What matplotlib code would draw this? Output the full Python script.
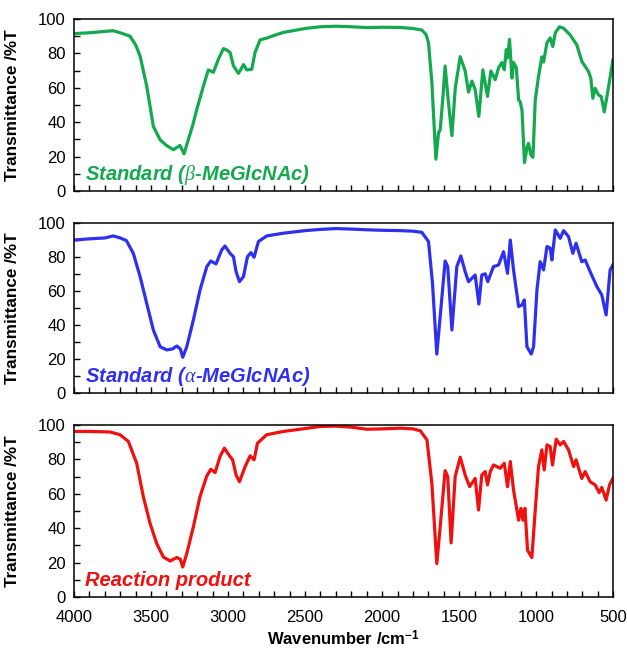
import matplotlib
matplotlib.use("Agg")
import matplotlib.pyplot as plt
from matplotlib.ticker import MultipleLocator

plt.rcParams['font.family'] = ['Liberation Sans', 'DejaVu Sans']
plt.rcParams['mathtext.fontset'] = 'custom'
plt.rcParams['mathtext.rm'] = 'Liberation Sans'
plt.rcParams['mathtext.it'] = 'Liberation Serif:italic'
plt.rcParams['mathtext.bf'] = 'Liberation Sans:bold'

# beta-MeGlcNAc standard (green)
wn_beta = [4000, 3900, 3800, 3746, 3700, 3636, 3600, 3571, 3528, 3485, 3441, 3400, 3355, 3312,
           3286, 3258, 3230, 3203, 3160, 3128, 3095, 3063, 3030, 3009, 2987, 2965, 2933, 2915,
           2900, 2879, 2846, 2825, 2792, 2749, 2700, 2641, 2500, 2402, 2300, 2200, 2100, 2000,
           1883, 1800, 1742, 1715, 1699, 1677, 1651, 1634, 1623, 1605, 1591, 1570, 1547, 1525,
           1493, 1461, 1439, 1417, 1396, 1372, 1346, 1316, 1294, 1266, 1244, 1222, 1207, 1194,
           1186, 1173, 1157, 1147, 1129, 1114, 1104, 1092, 1076, 1060, 1050, 1034, 1021, 1006,
           985, 963, 952, 930, 909, 892, 876, 849, 822, 779, 736, 703, 682, 660, 645, 632, 617,
           595, 578, 558, 530, 502]
t_beta = [91.5, 92, 92.8, 93.2, 92, 90, 85, 78.5, 61, 37.6, 29.8, 26.5, 24, 26.5,
          21.6, 29.8, 38, 47.4, 61, 70.4, 69, 76.6, 82.8, 82, 80.6, 72.8, 68.4, 71,
          73.5, 70.4, 70.8, 80.5, 87.9, 88.9, 90.5, 92.2, 94.5, 95.5, 95.8, 95.5, 95, 95.2,
          95.1, 94.5, 93.6, 91, 86.3, 63, 18.5, 33.7, 35.6, 55, 72.7, 52, 32.2, 60,
          78.1, 69.8, 57.5, 63.9, 58.9, 43.4, 70.5, 55, 69.8, 64.7, 71.7, 74.7, 70.5, 82.2,
          77.4, 88.2, 65.6, 74.7, 71.7, 53, 52, 47, 16.5, 25, 27.7, 21, 19.6, 53,
          66.5, 78, 75, 86.2, 89, 84, 92, 95.5, 94.6, 90.7, 84.9, 75.2, 72.5, 69.4, 65.5, 53.9, 59.7,
          55.8, 55, 46, 60.6, 76.2]

# alpha-MeGlcNAc standard (blue)
wn_alpha = [4000, 3900, 3800, 3746, 3700, 3660, 3615, 3571, 3528, 3485, 3441, 3398, 3360, 3333,
            3310, 3294, 3268, 3225, 3182, 3138, 3112, 3078, 3041, 3020, 2987, 2965, 2948, 2926,
            2900, 2874, 2852, 2831, 2803, 2749, 2641, 2500, 2402, 2300, 2200, 2100, 2000, 1883,
            1800, 1742, 1699, 1673, 1645, 1623, 1591, 1574, 1547, 1515, 1489, 1461, 1439, 1396,
            1372, 1353, 1331, 1314, 1277, 1244, 1212, 1186, 1168, 1147, 1114, 1092, 1077, 1060,
            1032, 1017, 995, 974, 952, 930, 909, 898, 876, 844, 822, 790, 762, 741, 704, 682,
            650, 606, 574, 546, 520, 502]
t_alpha = [89.8, 90.5, 91, 92.2, 91, 89.5, 82, 68.4, 52.7, 37.1, 27.3, 25.4, 26, 27.7,
           26, 21.1, 27.3, 43, 60.5, 74.2, 77.5, 75.8, 84, 86.3, 82, 80, 71.3, 65.4,
           68.4, 80, 82.4, 79.7, 88.9, 92.2, 93.8, 95.3, 96, 96.5, 96.2, 95.8, 95.5, 95.3,
           95, 94.3, 88.9, 64.5, 23, 45, 77.5, 74.2, 37.1, 74.2, 80.5, 71.3, 65.4, 69.3,
           52.3, 69.3, 70, 65.4, 74.2, 75.2, 83, 70.3, 89.8, 72.3, 50.8, 51.8, 54.7, 27.3,
           23, 27.3, 60.5, 77.1, 72.3, 86, 85, 78.1, 95.7, 90.8, 95.3, 91.8, 82, 87.9, 77.1, 78.1,
           71.3, 62.5, 57.6, 45.9, 72.3, 75.2]

# reaction product (red)
wn_prod = [4000, 3900, 3766, 3701, 3647, 3593, 3550, 3506, 3463, 3420, 3376, 3333, 3310, 3294,
           3268, 3225, 3182, 3138, 3112, 3084, 3052, 3024, 2987, 2970, 2948, 2926, 2889, 2857,
           2831, 2809, 2749, 2641, 2500, 2402, 2300, 2200, 2100, 2000, 1883, 1800, 1752, 1709,
           1677, 1645, 1623, 1591, 1574, 1552, 1526, 1493, 1461, 1432, 1396, 1374, 1353, 1331,
           1316, 1298, 1277, 1233, 1207, 1186, 1168, 1147, 1114, 1099, 1086, 1073, 1056, 1028,
           1006, 985, 963, 948, 930, 909, 894, 870, 844, 822, 790, 757, 741, 704, 682, 650,
           617, 591, 574, 546, 524, 502]
t_prod = [96.3, 96.3, 96, 94.4, 90.5, 77.8, 58.4, 42.8, 31.1, 23.3, 21, 23, 22, 17.5,
          25.3, 40.9, 58.4, 70.4, 74.3, 72.4, 81.7, 86.6, 81.7, 79.8, 71, 67.1, 75.9, 82.1,
          79.8, 89.5, 94.4, 96.3, 98, 99.2, 99.4, 98.8, 97.6, 97.8, 98.2, 97.8, 96.7, 91.4,
          66.1, 19.5, 40.9, 73.5, 70, 31.5, 70, 81.3, 71, 64.2, 69, 50.6, 71, 73,
          65.2, 73, 76.8, 74.9, 77.8, 64.2, 78.8, 62.3, 44.7, 51.6, 44.7, 51.6, 27.2, 23,
          50.6, 75.9, 85.6, 73.9, 88.5, 87.5, 76.8, 91.8, 88.5, 90.5, 85.6, 75.9, 79.8, 69, 73, 67.1,
          65.2, 60.7, 63.8, 56.4, 65.2, 69]

series = [
    (wn_beta, t_beta, '#14a84f', r'Standard ($\beta$-MeGlcNAc)'),
    (wn_alpha, t_alpha, '#2f2ff0', r'Standard ($\alpha$-MeGlcNAc)'),
    (wn_prod, t_prod, '#f01010', 'Reaction product'),
]

fig = plt.figure(figsize=(6.27, 6.49), dpi=100)
boxes = [[0.118, 0.7057, 0.860, 0.265],
         [0.118, 0.394, 0.860, 0.263],
         [0.118, 0.080, 0.860, 0.265]]

for i, (x, y, col, name) in enumerate(series):
    ax = fig.add_axes(boxes[i])
    ax.plot(x, y, color=col, lw=2.3)
    ax.set_xlim(4000, 500)
    ax.set_ylim(0, 100)
    ax.xaxis.set_major_locator(MultipleLocator(500))
    ax.xaxis.set_minor_locator(MultipleLocator(100))
    ax.yaxis.set_major_locator(MultipleLocator(20))
    ax.yaxis.set_minor_locator(MultipleLocator(10))
    ax.tick_params(which='both', direction='in', length=4, width=1, labelsize=12)
    ax.tick_params(axis='y', pad=6)
    ax.tick_params(axis='x', pad=9)
    for s in ax.spines.values():
        s.set_linewidth(1.1)
    if i < 2:
        ax.tick_params(axis='x', labelbottom=False)
    ax.set_ylabel('Transmittance /%T', fontsize=12.3, fontweight='bold')
    ax.yaxis.set_label_coords(-0.1, 0.5)
    ax.text(3930, 6.5, name, color=col, fontsize=14.5, fontweight='bold',
            style='italic', va='baseline', ha='left')

ax.set_xlabel(r'Wavenumber /cm$^{\mathbf{-1}}$', fontsize=12, fontweight='bold')
ax.xaxis.set_label_coords(0.5, -0.185)

plt.savefig('out.png', dpi=100)
